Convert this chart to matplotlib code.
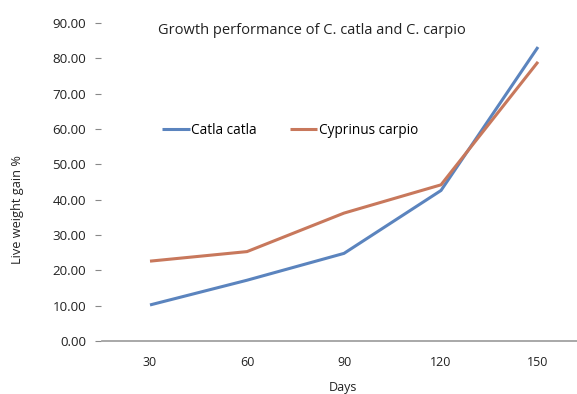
import matplotlib
matplotlib.use("Agg")
import matplotlib.pyplot as plt

days = ["30", "60", "90", "120", "150"]
catla = [10.2, 17.2, 24.8, 42.6, 83.2]
carpio = [22.6, 25.3, 36.2, 44.2, 79.0]
y_ticks = [0, 10, 20, 30, 40, 50, 60, 70, 80, 90]

plt.rcParams["font.family"] = ["Open Sans", "DejaVu Sans"]

W, H = 577, 394
fig = plt.figure(figsize=(W / 100, H / 100), dpi=100)
left, right = 101.5 / W, 586.5 / W
bottom, top = 1 - 341 / H, 1 - 23 / H
ax = fig.add_axes([left, bottom, right - left, top - bottom])

x = range(len(days))
ax.plot(x, catla, color="#5B84BE", lw=2.2, label="Catla catla", solid_capstyle="butt")
ax.plot(x, carpio, color="#C8785C", lw=2.2, label="Cyprinus carpio", solid_capstyle="butt")

ax.set_xlim(-0.5, 4.5)
ax.set_ylim(0, 90)
ax.set_xticks(list(x))
ax.set_xticklabels(days)
ax.set_yticks(y_ticks)
ax.set_yticklabels([f"{v:.2f}" for v in y_ticks])

for s in ["top", "right", "left"]:
    ax.spines[s].set_visible(False)
ax.spines["bottom"].set_color("#999999")
ax.spines["bottom"].set_linewidth(1.2)
ax.tick_params(axis="x", length=0, labelsize=9, pad=11, colors="#222222")
ax.tick_params(axis="y", length=4, width=0.8, color="#888888", labelsize=9.6,
               pad=7, labelcolor="#222222")

fig.text(312 / W, 1 - 30 / H, "Growth performance of C. catla and C. carpio",
         ha="center", va="center", fontsize=10.5, color="#222222")
fig.text(343 / W, 1 - 388 / H, "Days", ha="center", va="center",
         fontsize=9, color="#222222")
fig.text(18 / W, 1 - 210 / H, "Live weight gain %", ha="center", va="center",
         rotation=90, fontsize=9.2, color="#222222")

ax.legend(loc="center left", bbox_to_anchor=(162 / W, 1 - 130 / H),
          bbox_transform=fig.transFigure, ncol=2, frameon=False,
          fontsize=9.8, handlelength=2.05, handletextpad=0.1, columnspacing=2.4,
          borderaxespad=0, borderpad=0)

fig.savefig("out.png", dpi=100)
